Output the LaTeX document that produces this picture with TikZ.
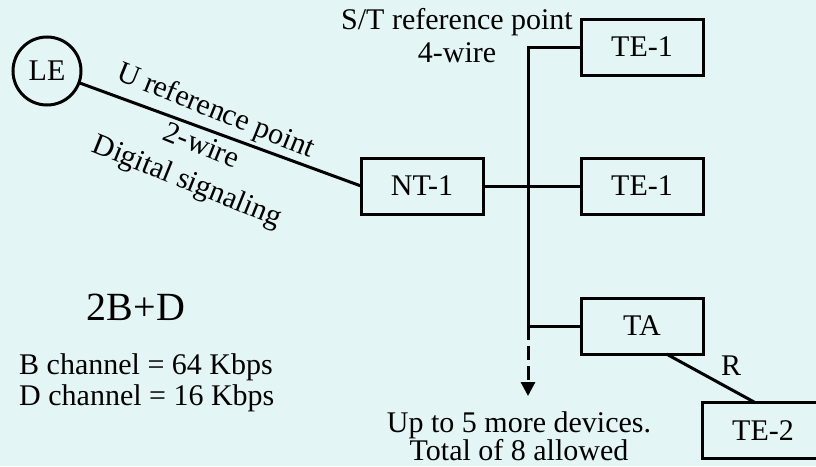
\documentclass[tikz,border=0pt]{standalone}
\usepackage{fontspec}
\setmainfont{Liberation Serif}
\usepackage{xcolor}
\usetikzlibrary{arrows.meta, positioning}
\definecolor{bgcyan}{RGB}{228,245,246}

\begin{document}
\begin{tikzpicture}[
    x=1pt, y=1pt,
    every node/.style={font=\fontsize{30}{34}\selectfont},
    unit/.style={rectangle, draw=black, line width=3pt, minimum width=122pt, minimum height=56pt, inner sep=0pt, outer sep=0pt},
    exch/.style={circle, draw=black, line width=3pt, minimum size=68pt, inner sep=0pt, outer sep=0pt},
    wire/.style={line width=3pt, draw=black},
    more/.style={wire, dash pattern=on 14pt off 6pt, -{Triangle[length=14pt, width=14pt]}},
    note/.style={align=center, inner sep=0pt},
  ]
  \useasboundingbox (0,0) rectangle (816,-466);
  \clip (0,0) rectangle (816,-466);
  \fill[bgcyan] (0,0) rectangle (816,-466);

  % Exchange and network termination
  \node[exch] (le) at (47,-71) {LE};
  \node[unit] (nt) at (422,-186) {NT-1};

  % Terminals on the S/T bus
  \node[unit, right=98pt of nt] (teb) {TE-1};
  \node[unit, above=83pt of teb] (tea) {TE-1};
  \node[unit, below=84pt of teb] (ta) {TA};
  \node[unit] (tetwo) at (763,-430.5) {TE-2};

  \coordinate (split) at (528,-326);
  \coordinate (moreend) at (528,-396);

  % Wires
  \draw[wire] (le) -- (nt.west);
  \draw[wire] (nt) -- (teb);
  \draw[wire] (tea.west) -| (split) -- (ta.west);
  \draw[more] (split) -- (moreend);
  \draw[wire] (ta.-49) -- (tetwo.106)
    node[midway, anchor=south west, inner sep=0pt, xshift=9pt, yshift=1pt] {R};

  % Labels
  \node[note, rotate=-22, font=\fontsize{30}{38}\selectfont] (ulbl) at (201,-147) {U reference point\\2-wire\\Digital signaling};
  \node[note, font=\fontsize{30}{33}\selectfont] (stlbl) at (457,-36) {S/T reference point\\4-wire};
  \node[note, font=\fontsize{30}{28}\selectfont] (morelbl) at (519,-436) {Up to 5 more devices.\\Total of 8 allowed};
  \node[note, font=\fontsize{40}{44}\selectfont] (chan) at (136,-307) {2B+D};
  \node[note, align=left, anchor=west, font=\fontsize{30}{31}\selectfont] (rates) at (19,-383) {B channel = 64 Kbps\\D channel = 16 Kbps};

\end{tikzpicture}
\end{document}
